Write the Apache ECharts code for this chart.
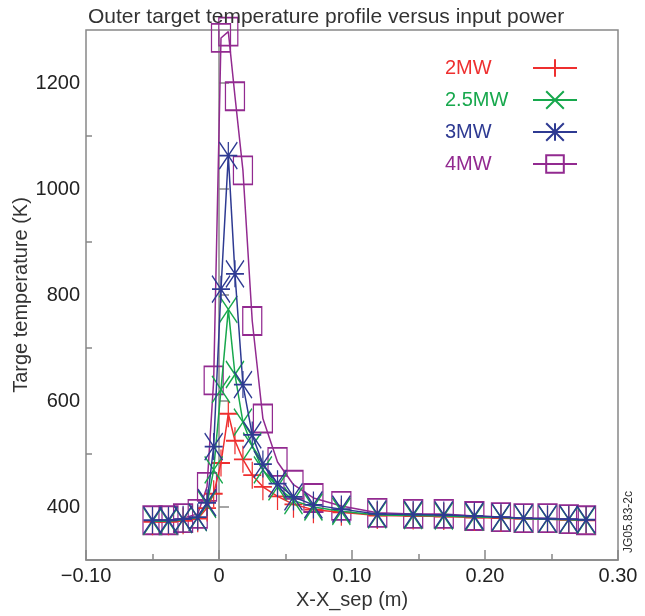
<!DOCTYPE html>
<html>
<head>
<meta charset="utf-8">
<script src="https://cdn.jsdelivr.net/npm/echarts@6/dist/echarts.min.js"></script>
<style>html,body{margin:0;padding:0;background:#fff}#c{width:645px;height:616px}</style>
</head>
<body>
<div id="c"></div>
<script>
// ---- data ----
const xPos = [-0.050,-0.038,-0.027,-0.016,-0.009,-0.004,0.0015,0.007,0.012,0.018,0.025,0.033,0.044,0.056,0.071,0.092,0.119,0.146,0.169,0.192,0.212,0.229,0.247,0.263,0.276];
const mw2  = [372,372,374,378,398,425,483,576,525,490,460,438,420,405,395,390,384,383,382,380,379,378,377,376,375];
const mw25 = [373,373,376,380,405,470,622,773,650,560,515,470,438,412,400,392,385,384,383,381,380,378,377,376,375];
const mw3  = [375,375,377,381,408,514,811,1063,840,631,536,481,444,419,404,396,387,386,385,383,381,379,378,377,376];
const mw4  = [375,375,379,387,438,639,1285,1297,1175,1035,751,567,485,442,417,402,389,387,387,383,381,379,379,377,375];
const seriesNames = ['2MW','2.5MW','3MW','4MW'];
const xTickLabels = ['\u22120.10','0','0.10','0.20','0.30'];
const yLabelValues = [400,600,800,1000,1200];
const yMinorValues = [500,700,900,1100];

const colors = ['#ee2f2f','#17a84d','#2e3a92','#922a90'];
const FONT = 'Liberation Sans, Arial, Helvetica, sans-serif';
const symbols = [
  'path://M0,-1L0,1M-1,0L1,0',
  'path://M-1,-1L1,1M-1,1L1,-1',
  'path://M0,-1L0,1M-1,0L1,0M-1,-1L1,1M-1,1L1,-1',
  'rect'
];
const allData = [mw2, mw25, mw3, mw4];
const zs = [3,4,5,2];

const series = seriesNames.map((n,i)=>({
  name: n,
  type: 'line',
  z: zs[i],
  data: xPos.map((x,j)=>[x, allData[i][j]]),
  symbol: symbols[i],
  symbolSize: i===3 ? [19,28] : [18,27],
  showAllSymbol: true,
  lineStyle: {color: colors[i], width: 1.5},
  itemStyle: {color: 'rgba(0,0,0,0)', borderColor: colors[i], borderWidth: 1.5},
  emphasis: {disabled: true},
  animation: false
}));

const rich = {};
colors.forEach((c,i)=>{ rich['c'+i] = {color: c, width: 83, align: 'left', fontFamily: FONT, fontSize: 20}; });

const chart = echarts.init(document.getElementById('c'), null, {renderer:'canvas'});
const axisColor = '#888888';
chart.setOption({
  animation: false,
  title: {
    text: 'Outer target temperature profile versus input power',
    left: 83, top: 2,
    textStyle: {fontFamily: FONT, fontSize: 21, fontWeight: 'normal', color: '#333'}
  },
  grid: {left: 86, right: 27, top: 30, bottom: 56, show: true, borderColor: axisColor, borderWidth: 1.5,
         containLabel: false, outerBoundsMode: 'none'},
  legend: {
    orient: 'vertical', left: 440, top: 53, align: 'right',
    itemWidth: 44, itemHeight: 22, itemGap: 12,
    textStyle: {fontFamily: FONT, fontSize: 20, rich: rich},
    formatter: name => '{c' + seriesNames.indexOf(name) + '|' + name + '}',
    data: seriesNames,
    selectedMode: false
  },
  xAxis: {
    type: 'value', min: -0.1, max: 0.3, interval: 0.1,
    name: 'X-X_sep (m)', nameLocation: 'middle', nameGap: 30, nameMoveOverlap: false,
    nameTextStyle: {fontFamily: FONT, fontSize: 20, color: '#333'},
    axisLine: {lineStyle: {color: axisColor, width: 1.5}},
    axisTick: {inside: true, length: 10, lineStyle: {color: axisColor, width: 1.5}},
    minorTick: {show: true, splitNumber: 2, length: 6, lineStyle: {color: axisColor, width: 1.5}},
    splitLine: {show: false},
    axisLabel: {fontFamily: FONT, fontSize: 20, color: '#222', margin: 6,
      formatter: (v, idx) => xTickLabels[idx]}
  },
  yAxis: [{
    type: 'value', min: 300, max: 1300, interval: 100,
    name: 'Targe temperature (K)', nameLocation: 'middle', nameGap: 55, nameMoveOverlap: false,
    nameTextStyle: {fontFamily: FONT, fontSize: 20, color: '#333'},
    axisLine: {show: true, lineStyle: {color: axisColor, width: 1.5}},
    axisTick: {inside: true, length: 10, customValues: yLabelValues, lineStyle: {color: axisColor, width: 1.5}},
    splitLine: {show: false},
    axisLabel: {fontFamily: FONT, fontSize: 20, color: '#222', margin: 6, customValues: yLabelValues,
      formatter: v => String(v)}
  },{
    type: 'value', min: 300, max: 1300, interval: 100, position: 'left',
    axisLine: {show: false},
    axisTick: {show: true, inside: true, length: 6, customValues: yMinorValues, lineStyle: {color: axisColor, width: 1.5}},
    axisLabel: {show: false},
    splitLine: {show: false}
  }],
  graphic: [{
    type: 'text', x: 629, y: 522, rotation: Math.PI/2,
    style: {text: 'JG05.83-2c', fontFamily: FONT, fontSize: 12, fill: '#333', align: 'center', verticalAlign: 'middle'}
  }],
  series: series
});
</script>
</body>
</html>
